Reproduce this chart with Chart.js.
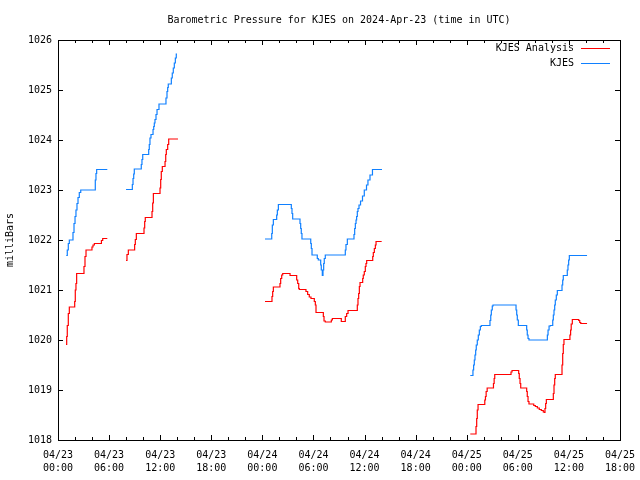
<!DOCTYPE html>
<html>
<head>
<meta charset="utf-8">
<script src="https://cdn.jsdelivr.net/npm/chart.js@4.4.1/dist/chart.umd.min.js"></script>
<style>
  html, body { margin: 0; padding: 0; background: #fff; }
  canvas { display: block; }
</style>
</head>
<body>
<canvas id="myChart" width="640" height="480"></canvas>
<script>
// hours since 2024-04-23 00:00 UTC, null = gap in the record
const xTickLabels = [
  ['04/23', '00:00'], ['04/23', '06:00'], ['04/23', '12:00'], ['04/23', '18:00'],
  ['04/24', '00:00'], ['04/24', '06:00'], ['04/24', '12:00'], ['04/24', '18:00'],
  ['04/25', '00:00'], ['04/25', '06:00'], ['04/25', '12:00'], ['04/25', '18:00']
];

const analysisHours = [
  0.94, 1.02, 1.09, 1.21, 1.33, 1.96, 2.03, 2.11, 2.19, 3.05, 3.17, 3.29, 3.99, 4.11, 4.27, 5.10, 5.25, 5.79,
  6.9,
  7.99, 8.10, 8.26, 9.00, 9.08, 9.20, 10.10, 10.18, 10.25, 11.04, 11.12, 11.20, 11.98, 12.06, 12.13, 12.25,
  12.57, 12.65, 12.72, 12.88, 13.00, 14.09,
  19,
  24.31, 25.13, 25.21, 25.29, 26.07, 26.15, 26.27, 26.39, 27.25, 28.03, 28.15, 28.27, 28.34, 29.12, 29.32,
  29.51, 29.71, 30.10, 30.22, 30.30, 31.16, 31.24, 31.39, 32.10, 32.22, 33.27, 33.74, 33.90, 34.06, 35.15,
  35.23, 35.31, 35.39, 35.47, 35.78, 35.85, 35.97, 36.09, 36.17, 36.25, 36.96, 37.03, 37.15, 37.27, 37.35, 38.01,
  43,
  48.42, 49.09, 49.17, 49.24, 49.33, 50.12, 50.20, 50.28, 50.40, 51.14, 51.22, 51.29, 53.20, 53.32, 54.10,
  54.17, 54.26, 54.34, 55.04, 55.11, 55.20, 55.31, 55.87, 56.06, 56.29, 56.52, 56.76, 56.99, 57.11, 57.19,
  57.27, 57.35, 58.17, 58.25, 58.33, 58.40, 59.19, 59.27, 59.34, 59.42, 60.12, 60.20, 60.27, 60.40, 61.15,
  61.27, 61.39, 62.13
];
const analysisMb = [
  1019.91, 1020.07, 1020.29, 1020.53, 1020.66, 1020.77, 1021.00, 1021.13, 1021.33, 1021.47, 1021.67, 1021.80,
  1021.86, 1021.90, 1021.93, 1021.99, 1022.03, 1022.03,
  null,
  1021.59, 1021.71, 1021.80, 1021.91, 1022.01, 1022.13, 1022.24, 1022.37, 1022.45, 1022.57, 1022.74, 1022.93,
  1023.04, 1023.21, 1023.37, 1023.47, 1023.57, 1023.71, 1023.81, 1023.91, 1024.02, 1024.02,
  null,
  1020.77, 1020.87, 1020.97, 1021.06, 1021.13, 1021.23, 1021.30, 1021.33, 1021.29, 1021.20, 1021.13, 1021.03,
  1021.01, 1020.97, 1020.91, 1020.86, 1020.83, 1020.77, 1020.70, 1020.55, 1020.47, 1020.38, 1020.36, 1020.40,
  1020.43, 1020.37, 1020.47, 1020.53, 1020.59, 1020.70, 1020.83, 1020.93, 1021.07, 1021.15, 1021.23, 1021.30,
  1021.37, 1021.47, 1021.53, 1021.59, 1021.67, 1021.75, 1021.83, 1021.90, 1021.97, 1021.97,
  null,
  1018.12, 1018.27, 1018.43, 1018.60, 1018.71, 1018.80, 1018.87, 1018.97, 1019.04, 1019.13, 1019.23, 1019.31,
  1019.36, 1019.39, 1019.33, 1019.23, 1019.13, 1019.04, 1018.97, 1018.87, 1018.77, 1018.72, 1018.69, 1018.67,
  1018.64, 1018.61, 1018.59, 1018.56, 1018.55, 1018.63, 1018.73, 1018.81, 1018.93, 1019.10, 1019.23, 1019.31,
  1019.50, 1019.73, 1019.91, 1020.01, 1020.10, 1020.20, 1020.32, 1020.41, 1020.39, 1020.35, 1020.33, 1020.33
];

const kjesHours = [
  0.97, 1.09, 1.21, 1.33, 1.76, 1.88, 2.00, 2.11, 2.23, 2.35, 2.50, 2.67, 4.38, 4.46, 4.54, 5.79,
  6.9,
  7.99, 8.73, 8.81, 8.89, 8.96, 9.78, 9.86, 9.95, 10.65, 10.72, 10.80, 10.92, 11.16, 11.24, 11.31, 11.39,
  11.51, 11.63, 11.86, 12.68, 12.80, 12.88, 12.95, 13.31, 13.42, 13.54, 13.66, 13.78, 13.89, 13.98,
  19,
  24.31, 25.10, 25.17, 25.29, 25.68, 25.76, 25.88, 27.40, 27.48, 27.56, 28.42, 28.50, 28.57, 28.65, 29.68,
  29.75, 29.83, 30.45, 30.57, 30.85, 30.92, 31.04, 31.12, 31.20, 31.27, 31.39, 33.74, 33.82, 33.98, 34.76,
  34.84, 34.92, 35.00, 35.07, 35.15, 35.23, 35.35, 35.53, 35.76, 35.97, 36.23, 36.40, 36.64, 36.93, 38.05,
  43,
  48.42, 48.73, 48.81, 48.89, 48.97, 49.05, 49.12, 49.24, 49.36, 49.48, 49.60, 49.71, 50.73, 50.82, 50.89,
  51.00, 51.09, 53.79, 53.87, 53.94, 54.06, 55.04, 55.11, 55.20, 55.31, 57.47, 57.55, 57.67, 57.82, 58.10,
  58.17, 58.25, 58.33, 58.40, 58.52, 58.64, 59.19, 59.27, 59.34, 59.81, 59.89, 59.97, 60.05, 62.13
];
const kjesMb = [
  1021.69, 1021.80, 1021.93, 1022.00, 1022.15, 1022.33, 1022.47, 1022.60, 1022.73, 1022.85, 1022.95, 1023.00,
  1023.20, 1023.33, 1023.41, 1023.41,
  null,
  1023.01, 1023.11, 1023.23, 1023.32, 1023.42, 1023.51, 1023.61, 1023.71, 1023.81, 1023.91, 1024.04, 1024.11,
  1024.21, 1024.27, 1024.34, 1024.41, 1024.51, 1024.61, 1024.72, 1024.84, 1024.97, 1025.05, 1025.12, 1025.24,
  1025.34, 1025.44, 1025.54, 1025.64, 1025.72, 1025.72,
  null,
  1022.02, 1022.13, 1022.30, 1022.41, 1022.50, 1022.60, 1022.71, 1022.63, 1022.53, 1022.42, 1022.33, 1022.23,
  1022.13, 1022.02, 1021.93, 1021.83, 1021.70, 1021.63, 1021.60, 1021.50, 1021.40, 1021.29, 1021.40, 1021.53,
  1021.63, 1021.70, 1021.80, 1021.91, 1022.02, 1022.11, 1022.23, 1022.33, 1022.40, 1022.47, 1022.57, 1022.63,
  1022.70, 1022.78, 1022.88, 1023.00, 1023.10, 1023.20, 1023.30, 1023.41, 1023.41,
  null,
  1019.29, 1019.40, 1019.50, 1019.60, 1019.70, 1019.80, 1019.90, 1020.00, 1020.10, 1020.20, 1020.27, 1020.29,
  1020.39, 1020.50, 1020.60, 1020.68, 1020.70, 1020.60, 1020.50, 1020.40, 1020.29, 1020.20, 1020.10, 1020.03,
  1020.00, 1020.10, 1020.20, 1020.28, 1020.29, 1020.40, 1020.50, 1020.60, 1020.70, 1020.80, 1020.90, 1020.99,
  1021.10, 1021.20, 1021.29, 1021.40, 1021.50, 1021.60, 1021.69, 1021.69
];

const toPoints = (hours, mb) => hours.map((h, i) => ({ x: h, y: mb[i] }));

// gnuplot style box: border, inward tics on all four sides, and the key
const frame = {
  id: 'frame',
  afterDatasetsDraw(chart) {
    const { ctx, chartArea: a, scales: { x, y } } = chart;
    ctx.save();
    ctx.strokeStyle = '#000';
    ctx.lineWidth = 1;
    ctx.beginPath();
    for (let h = 0; h <= 66; h += 2) {
      const px = Math.round(x.getPixelForValue(h)) + 0.5;
      const len = h % 6 === 0 ? 5 : 3;
      ctx.moveTo(px, a.bottom); ctx.lineTo(px, a.bottom - len);
      ctx.moveTo(px, a.top); ctx.lineTo(px, a.top + len);
    }
    for (let v = 1018; v <= 1026; v++) {
      const py = Math.round(y.getPixelForValue(v)) + 0.5;
      ctx.moveTo(a.left, py); ctx.lineTo(a.left + 5, py);
      ctx.moveTo(a.right, py); ctx.lineTo(a.right - 5, py);
    }
    ctx.stroke();
    ctx.strokeRect(Math.round(a.left) + 0.5, Math.round(a.top) + 0.5,
      Math.round(a.right - a.left), Math.round(a.bottom - a.top));

    ctx.font = '10px "DejaVu Sans Mono"';
    ctx.textAlign = 'right';
    ctx.textBaseline = 'middle';
    chart.data.datasets.forEach((ds, i) => {
      const ty = Math.round(a.top + 8 + i * 14.5);
      ctx.fillStyle = '#000';
      ctx.fillText(ds.label, a.right - 46, ty);
      ctx.strokeStyle = ds.borderColor;
      ctx.beginPath();
      ctx.moveTo(a.right - 39, ty + 0.5);
      ctx.lineTo(a.right - 10, ty + 0.5);
      ctx.stroke();
    });
    ctx.restore();
  }
};

Chart.defaults.font.family = '"DejaVu Sans Mono", monospace';
Chart.defaults.font.size = 10;
Chart.defaults.color = '#000';

new Chart(document.getElementById('myChart'), {
  type: 'line',
  data: {
    datasets: [
      {
        label: 'KJES Analysis',
        data: toPoints(analysisHours, analysisMb),
        borderColor: '#ff0000',
        borderWidth: 1.2,
        pointRadius: 0,
        stepped: true,
        spanGaps: false
      },
      {
        label: 'KJES',
        data: toPoints(kjesHours, kjesMb),
        borderColor: '#1080ff',
        borderWidth: 1.2,
        pointRadius: 0,
        stepped: true,
        spanGaps: false
      }
    ]
  },
  options: {
    responsive: false,
    animation: false,
    devicePixelRatio: 1,
    layout: { padding: { right: 20 } },
    plugins: {
      legend: { display: false },
      tooltip: { enabled: false },
      title: {
        display: true,
        fullSize: false,
        text: 'Barometric Pressure for KJES on 2024-Apr-23 (time in UTC)',
        font: { size: 10, weight: 'normal' },
        padding: { top: 14, bottom: 14 }
      }
    },
    scales: {
      x: {
        type: 'linear',
        min: 0,
        max: 66,
        grid: { display: false, drawTicks: false },
        border: { display: false },
        ticks: {
          stepSize: 6,
          autoSkip: false,
          maxRotation: 0,
          padding: 9,
          font: { lineHeight: 1.3 },
          callback: v => xTickLabels[v / 6]
        },
        afterFit: s => { s.height = 40; s.paddingLeft = 0; s.paddingRight = 0; }
      },
      y: {
        min: 1018,
        max: 1026,
        grid: { display: false, drawTicks: false },
        border: { display: false },
        title: { display: true, text: 'milliBars', padding: { top: 4, bottom: 0 } },
        ticks: { stepSize: 1, padding: 6, callback: v => String(v) },
        afterFit: s => { s.width = 58; }
      }
    }
  },
  plugins: [frame]
});
</script>
</body>
</html>
